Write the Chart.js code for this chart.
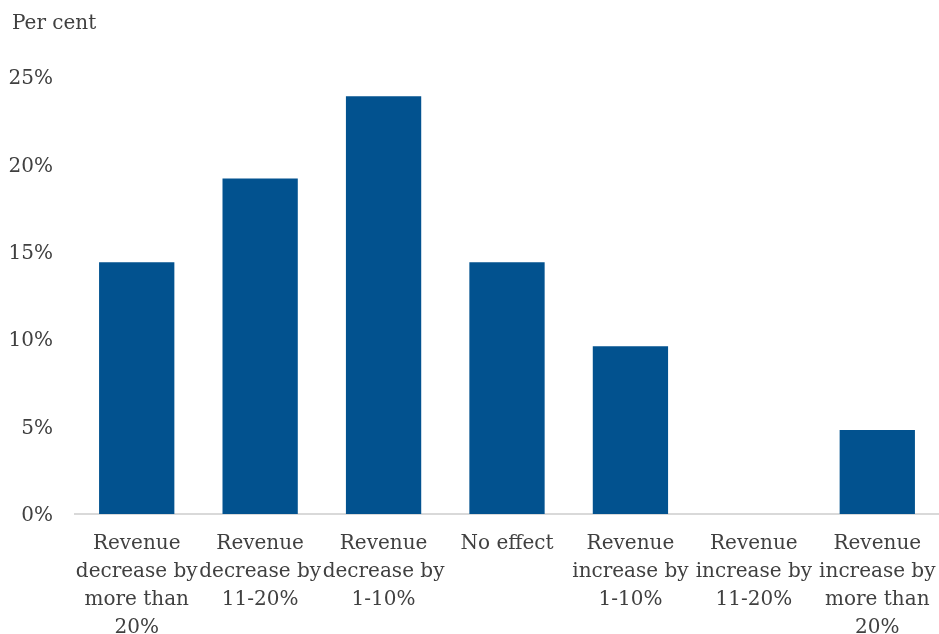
<!DOCTYPE html>
<html>
<head>
<meta charset="utf-8">
<script src="https://cdn.jsdelivr.net/npm/chart.js@4"></script>
<style>
  html, body { margin: 0; padding: 0; background: #fff; }
  #wrap { width: 939px; height: 634px; position: relative; }
</style>
</head>
<body>
<div id="wrap"><canvas id="revenue-chart"></canvas></div>
<script>
// Share of respondents by expected revenue effect
const categories = [
    ['Revenue', 'decrease by', 'more than', '20%'],
    ['Revenue', 'decrease by', '11-20%'],
    ['Revenue', 'decrease by', '1-10%'],
    ['No effect'],
    ['Revenue', 'increase by', '1-10%'],
    ['Revenue', 'increase by', '11-20%'],
    ['Revenue', 'increase by', 'more than', '20%'],
];
const shares = [14.4, 19.2, 23.9, 14.4, 9.6, 0, 4.8];
const yTicks = [0, 5, 10, 15, 20, 25];

const textColor = '#404040';
const fontFamily = "'DejaVu Serif', 'Liberation Serif', serif";

// "Per cent" unit label above the axis
const unitLabel = {
    id: 'unitLabel',
    afterDraw(chart) {
        const ctx = chart.ctx;
        ctx.save();
        ctx.font = '20px ' + fontFamily;
        ctx.fillStyle = textColor;
        ctx.textBaseline = 'middle';
        ctx.textAlign = 'left';
        ctx.fillText('Per cent', 12, 24);
        ctx.restore();
    }
};

new Chart(document.getElementById('revenue-chart'), {
    type: 'bar',
    data: {
        labels: categories,
        datasets: [{
            data: shares,
            backgroundColor: '#02528f',
            categoryPercentage: 1,
            barPercentage: 0.61,
        }]
    },
    options: {
        responsive: true,
        maintainAspectRatio: false,
        animation: false,
        layout: { padding: { top: 77, right: 0, left: 0, bottom: 0 } },
        plugins: {
            legend: { display: false },
            tooltip: { enabled: false },
        },
        scales: {
            x: {
                grid: { display: false },
                border: { color: '#d9d9d9', width: 2 },
                ticks: {
                    color: textColor,
                    font: { family: fontFamily, size: 20, lineHeight: 1.4 },
                    maxRotation: 0,
                    autoSkip: false,
                    padding: 8,
                },
                afterFit(scale) {
                    scale.height = 120;
                    scale.paddingLeft = 0;
                    scale.paddingRight = 0;
                },
            },
            y: {
                min: 0,
                max: 25,
                grid: { display: false },
                border: { display: false },
                afterBuildTicks(scale) { scale.ticks = yTicks.map(v => ({ value: v })); },
                ticks: {
                    color: textColor,
                    font: { family: fontFamily, size: 20 },
                    padding: 14,
                    labelOffset: 2,
                    callback: (v) => v + '%',
                },
                afterFit(scale) { scale.width = 75; },
            }
        }
    },
    plugins: [unitLabel]
});
</script>
</body>
</html>
